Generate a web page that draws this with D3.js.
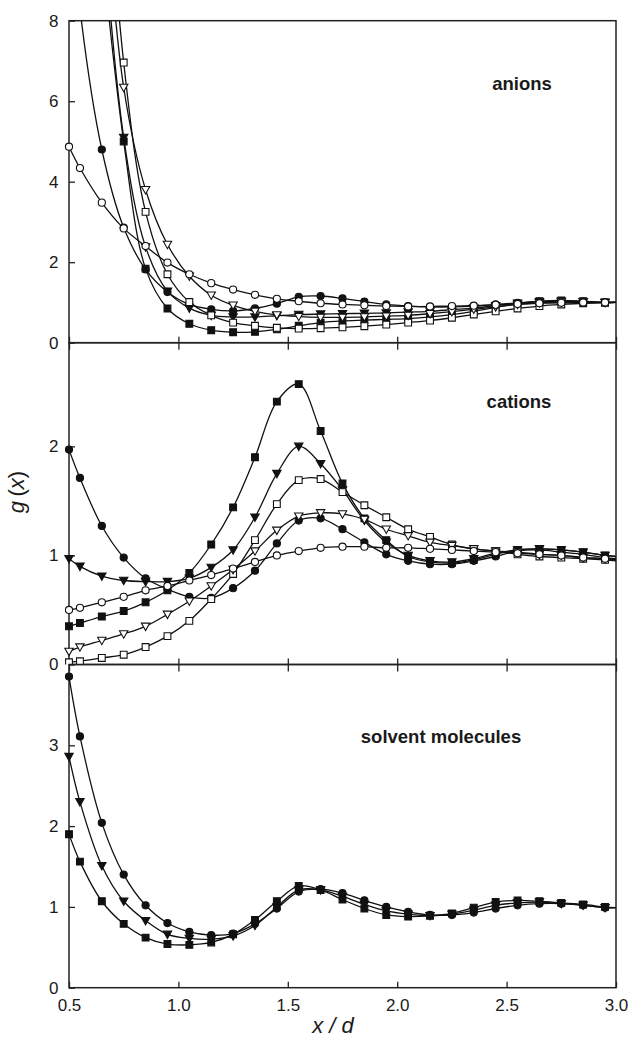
<!DOCTYPE html>
<html><head><meta charset="utf-8">
<script src="https://cdn.jsdelivr.net/npm/d3@7"></script>
<style>
body{margin:0;background:#fff}
svg{display:block}
text{font-family:"Liberation Sans",Arial,Helvetica,sans-serif;fill:#1a1a1a}
</style>
</head><body>
<svg id="chart" width="630" height="1040"></svg>
<script>
// ---------- data ----------
const xs = [0.5, 0.55, 0.65, 0.75, 0.85, 0.95, 1.05, 1.15, 1.25, 1.35, 1.45, 1.55, 1.65, 1.75, 1.85, 1.95, 2.05, 2.15, 2.25, 2.35, 2.45, 2.55, 2.65, 2.75, 2.85, 2.95, 3.0];
const xTicks = [0.5, 1.0, 1.5, 2.0, 2.5, 3.0];
const panelNames = ["anions", "cations", "solvent molecules"];
const yTicksAnions = [0, 2, 4, 6, 8];
const yTicksCations = [0, 1, 2];
const yTicksSolvent = [0, 1, 2, 3];
const yMaxAnions = 8, yMaxCations = 2.95, yMaxSolvent = 4;

// anions
const anOpenCircle   = [4.87, 4.34, 3.48, 2.84, 2.40, 1.99, 1.70, 1.48, 1.32, 1.19, 1.09, 1.03, 0.98, 0.95, 0.93, 0.91, 0.90, 0.90, 0.91, 0.92, 0.94, 0.96, 0.98, 0.99, 1.00, 1.00, 1.00];
const anFilledCircle = [11.5, 8.3, 4.80, 2.86, 1.82, 1.26, 0.95, 0.83, 0.79, 0.85, 0.97, 1.14, 1.16, 1.10, 1.02, 0.95, 0.91, 0.89, 0.89, 0.91, 0.95, 0.99, 1.02, 1.03, 1.02, 1.00, 1.00];
const anFilledSquare = [null, null, 9.8, 5.00, 1.84, 0.85, 0.47, 0.31, 0.26, 0.27, 0.33, 0.42, 0.50, 0.54, 0.56, 0.58, 0.60, 0.64, 0.70, 0.78, 0.88, 0.97, 1.03, 1.05, 1.03, 1.00, 1.00];
const anFilledTri    = [null, null, 10.8, 5.10, 2.38, 1.28, 0.86, 0.68, 0.64, 0.64, 0.67, 0.70, 0.71, 0.72, 0.73, 0.74, 0.76, 0.78, 0.82, 0.86, 0.92, 0.98, 1.02, 1.03, 1.02, 1.00, 1.00];
const anOpenTri      = [null, null, 12.0, 6.34, 3.80, 2.44, 1.65, 1.18, 0.93, 0.78, 0.69, 0.65, 0.63, 0.63, 0.64, 0.66, 0.68, 0.72, 0.77, 0.83, 0.89, 0.95, 0.99, 1.01, 1.01, 1.00, 1.00];
const anOpenSquare   = [null, null, 14.0, 6.96, 3.25, 1.70, 1.01, 0.68, 0.50, 0.42, 0.37, 0.35, 0.36, 0.38, 0.41, 0.45, 0.50, 0.55, 0.62, 0.70, 0.78, 0.85, 0.91, 0.95, 0.98, 0.99, 1.00];

// cations
const caFilledCircle = [1.97, 1.71, 1.27, 0.98, 0.79, 0.69, 0.62, 0.61, 0.70, 0.86, 1.11, 1.32, 1.34, 1.24, 1.12, 1.01, 0.95, 0.92, 0.92, 0.95, 0.99, 1.04, 1.05, 1.03, 1.01, 0.98, 0.97];
const caFilledSquare = [0.35, 0.38, 0.44, 0.49, 0.57, 0.68, 0.84, 1.10, 1.44, 1.90, 2.41, 2.57, 2.14, 1.66, 1.34, 1.14, 0.99, 0.94, 0.93, 0.96, 1.01, 1.05, 1.06, 1.05, 1.03, 1.00, 0.99];
const caFilledTri    = [0.97, 0.90, 0.81, 0.77, 0.76, 0.76, 0.79, 0.89, 1.05, 1.35, 1.75, 2.00, 1.84, 1.60, 1.32, 1.12, 1.00, 0.95, 0.94, 0.97, 1.02, 1.05, 1.06, 1.05, 1.03, 1.00, 0.99];
const caOpenSquare   = [0.02, 0.03, 0.06, 0.09, 0.16, 0.26, 0.40, 0.60, 0.83, 1.14, 1.47, 1.69, 1.70, 1.58, 1.46, 1.35, 1.24, 1.17, 1.10, 1.06, 1.04, 1.01, 0.99, 0.98, 0.97, 0.96, 0.95];
const caOpenTri      = [0.12, 0.16, 0.22, 0.28, 0.35, 0.46, 0.58, 0.72, 0.87, 1.04, 1.23, 1.36, 1.39, 1.38, 1.33, 1.24, 1.18, 1.12, 1.09, 1.06, 1.04, 1.03, 1.01, 1.00, 0.98, 0.97, 0.96];
const caOpenCircle   = [0.50, 0.52, 0.57, 0.62, 0.68, 0.72, 0.77, 0.82, 0.88, 0.94, 1.00, 1.04, 1.07, 1.08, 1.08, 1.07, 1.07, 1.06, 1.05, 1.04, 1.03, 1.02, 1.01, 1.00, 0.98, 0.97, 0.96];

// solvent molecules
const soFilledCircle = [3.85, 3.11, 2.04, 1.40, 1.02, 0.80, 0.69, 0.65, 0.67, 0.79, 0.98, 1.19, 1.22, 1.17, 1.08, 1.00, 0.94, 0.90, 0.90, 0.93, 0.98, 1.02, 1.04, 1.04, 1.02, 0.99, 0.99];
const soFilledTri    = [2.86, 2.30, 1.51, 1.07, 0.83, 0.66, 0.61, 0.60, 0.64, 0.77, 1.00, 1.21, 1.21, 1.13, 1.03, 0.95, 0.91, 0.89, 0.91, 0.96, 1.02, 1.05, 1.06, 1.04, 1.02, 0.99, 0.99];
const soFilledSquare = [1.90, 1.56, 1.07, 0.79, 0.62, 0.54, 0.53, 0.56, 0.66, 0.84, 1.07, 1.26, 1.21, 1.09, 0.98, 0.90, 0.88, 0.89, 0.92, 0.99, 1.06, 1.08, 1.07, 1.05, 1.03, 1.00, 0.99];

// ---------- layout ----------
const svg = d3.select("#chart");
const L = 69, R = 616;
const tops = [20.7, 342.7, 664.5];
const bots = [342.7, 664.5, 987.7];
const x = d3.scaleLinear().domain([0.5, 3.0]).range([L, R]);
const ink = "#111";

const panels = [
  {ymax: yMaxAnions, ticks: yTicksAnions, label: panelNames[0], lx: 522, ly: 90, topTicks: false,
   series: [
     {v: anFilledSquare, shape: "square", fill: true},
     {v: anFilledTri, shape: "tri", fill: true},
     {v: anFilledCircle, shape: "circle", fill: true},
     {v: anOpenSquare, shape: "square", fill: false},
     {v: anOpenTri, shape: "tri", fill: false},
     {v: anOpenCircle, shape: "circle", fill: false}
   ]},
  {ymax: yMaxCations, ticks: yTicksCations, label: panelNames[1], lx: 519, ly: 408, topTicks: true,
   series: [
     {v: caFilledSquare, shape: "square", fill: true},
     {v: caFilledTri, shape: "tri", fill: true},
     {v: caFilledCircle, shape: "circle", fill: true},
     {v: caOpenSquare, shape: "square", fill: false},
     {v: caOpenTri, shape: "tri", fill: false},
     {v: caOpenCircle, shape: "circle", fill: false}
   ]},
  {ymax: yMaxSolvent, ticks: yTicksSolvent, label: panelNames[2], lx: 441, ly: 743, topTicks: true,
   series: [
     {v: soFilledSquare, shape: "square", fill: true},
     {v: soFilledTri, shape: "tri", fill: true},
     {v: soFilledCircle, shape: "circle", fill: true}
   ]}
];

function markerPath(shape) {
  if (shape === "circle") return d3.symbol(d3.symbolCircle, 40)();
  if (shape === "square") return "M-3.4,-3.4H3.4V3.4H-3.4Z";
  return "M-4.2,-3.2H4.2L0,4.2Z"; // downward triangle
}

panels.forEach((p, i) => {
  const y = d3.scaleLinear().domain([0, p.ymax]).range([bots[i], tops[i]]);
  const g = svg.append("g");
  const clipId = "clip" + i;
  svg.append("clipPath").attr("id", clipId).append("rect")
    .attr("x", L - 12).attr("y", tops[i]).attr("width", R - L + 24).attr("height", bots[i] - tops[i]);
  const lineClipId = "lclip" + i;
  svg.append("clipPath").attr("id", lineClipId).append("rect")
    .attr("x", L).attr("y", tops[i]).attr("width", R - L).attr("height", bots[i] - tops[i]);

  // y axis (left, inward ticks)
  const ya = g.append("g").attr("transform", `translate(${L},0)`)
    .call(d3.axisLeft(y).tickValues(p.ticks).tickSize(-6).tickSizeOuter(0).tickPadding(10.5).tickFormat(d3.format("d")));
  ya.select(".domain").remove();
  ya.selectAll("line").attr("stroke", "#222").attr("stroke-width", 1.3);
  ya.selectAll("text").style("font-size", "17px").attr("fill", "#1a1a1a");

  // bottom inward ticks
  const xb = g.append("g").attr("transform", `translate(0,${bots[i]})`)
    .call(d3.axisBottom(x).tickValues(xTicks).tickSize(-6).tickSizeOuter(0).tickPadding(11)
      .tickFormat(i === 2 ? d3.format(".1f") : () => ""));
  xb.select(".domain").remove();
  xb.selectAll("line").attr("stroke", "#222").attr("stroke-width", 1.3);
  xb.selectAll("text").style("font-size", "17px").attr("fill", "#1a1a1a");

  if (p.topTicks) {
    const xt = g.append("g").attr("transform", `translate(0,${tops[i]})`)
      .call(d3.axisTop(x).tickValues(xTicks).tickSize(-7).tickSizeOuter(0).tickFormat(() => ""));
    xt.select(".domain").remove();
    xt.selectAll("line").attr("stroke", "#222").attr("stroke-width", 1.3);
  }

  // frame
  g.append("rect").attr("x", L).attr("y", tops[i]).attr("width", R - L).attr("height", bots[i] - tops[i])
    .attr("fill", "none").attr("stroke", "#222").attr("stroke-width", 1.5);

  // curves
  const line = d3.line()
    .defined(d => d[1] != null)
    .x(d => x(d[0])).y(d => y(d[1]))
    .curve(d3.curveCatmullRom.alpha(0.5));
  const lg = g.append("g").attr("clip-path", `url(#${lineClipId})`);
  p.series.forEach(s => {
    lg.append("path").datum(xs.map((xv, k) => [xv, s.v[k]]))
      .attr("d", line).attr("fill", "none").attr("stroke", ink).attr("stroke-width", 1.3);
  });

  // markers
  const mg = g.append("g").attr("clip-path", `url(#${clipId})`);
  p.series.forEach(s => {
    const pts = xs.map((xv, k) => [xv, s.v[k]]).filter(d => d[1] != null && d[0] < 2.99 && d[1] <= p.ymax);
    mg.selectAll(null).data(pts).enter().append("path")
      .attr("transform", d => `translate(${x(d[0])},${y(d[1])})`)
      .attr("d", markerPath(s.shape))
      .attr("fill", s.fill ? ink : "#fff")
      .attr("stroke", ink).attr("stroke-width", 1.1);
  });

  // panel label
  g.append("text").attr("x", p.lx).attr("y", p.ly).attr("text-anchor", "middle")
    .style("font-size", "18.5px").style("font-weight", "bold").text(p.label);
});

// axis titles
const xt = svg.append("text").attr("x", 333).attr("y", 1033).attr("text-anchor", "middle")
  .style("font-size", "22px").style("font-style", "italic");
xt.text("x / d");

const yt = svg.append("text").attr("transform", "translate(24,492) rotate(-90)").attr("text-anchor", "middle")
  .style("font-size", "22px");
yt.append("tspan").style("font-style", "italic").text("g");
yt.append("tspan").text("\u2009(");
yt.append("tspan").style("font-style", "italic").text("x");
yt.append("tspan").text(")");
</script>
</body></html>
